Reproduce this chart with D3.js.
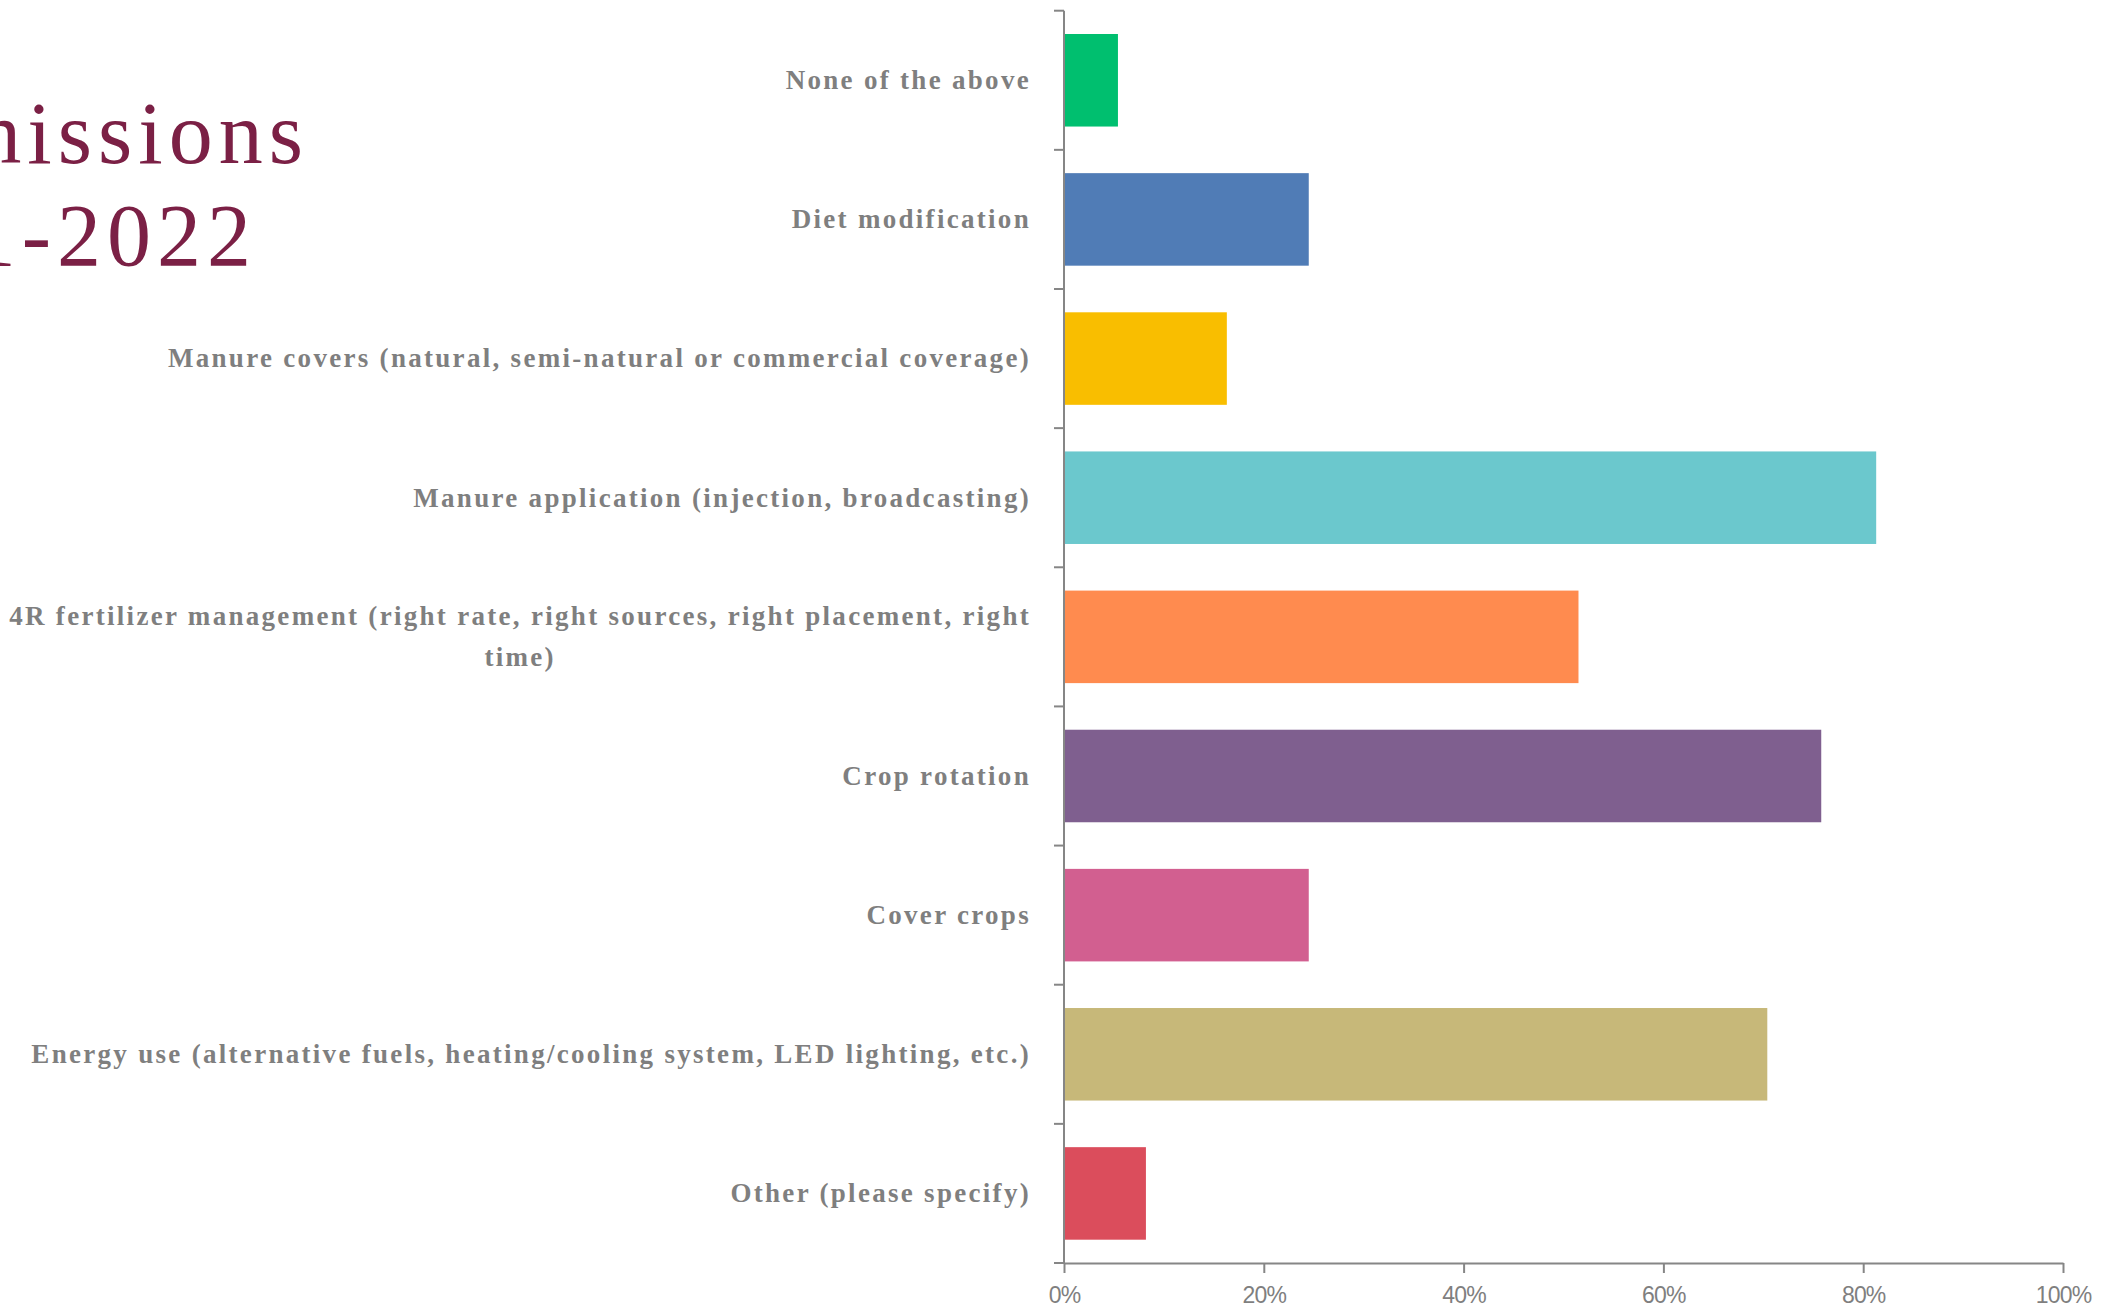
<!DOCTYPE html>
<html>
<head>
<meta charset="utf-8">
<script src="https://cdn.jsdelivr.net/npm/d3@7"></script>
<style>
  html, body { margin: 0; padding: 0; background: #ffffff; }
  svg { display: block; }
</style>
</head>
<body>
<svg id="chart" width="2121" height="1310"></svg>
<script>
// ---- Data ----
const categories = [
  "None of the above",
  "Diet modification",
  "Manure covers (natural, semi-natural or commercial coverage)",
  "Manure application (injection, broadcasting)",
  "4R fertilizer management (right rate, right sources, right placement, right time)",
  "Crop rotation",
  "Cover crops",
  "Energy use (alternative fuels, heating/cooling system, LED lighting, etc.)",
  "Other (please specify)"
];
const values = [0.054, 0.245, 0.163, 0.813, 0.515, 0.758, 0.245, 0.704, 0.082];
const barColors = ["#00bf6f", "#507cb6", "#f9be00", "#6bc8cd", "#ff8b4f", "#7f5f8f", "#d25f90", "#c7b879", "#db4d5c"];
const xTickValues = [0, 0.2, 0.4, 0.6, 0.8, 1.0];
const titleLines = ["Practices to Reduce GHG Emissions", "2021-2022"];

// ---- Layout ----
const W = 2121, H = 1310;
const plotLeft = 1064, plotRight = 2063, plotTop = 10.7, plotBottom = 1263;
const labelRight = 1031;
const labelMaxWidth = 1030;
const axisColor = "#868686";
const labelColor = "#7f7f7f";

const svg = d3.select("#chart");

const x = d3.scaleLinear().domain([0, 1]).range([plotLeft, plotRight]);
const y = d3.scaleBand().domain(categories).range([plotTop, plotBottom])
  .paddingInner(0.335).paddingOuter(0.1675);

// Title (clipped at the left edge, as in the reference)
const title = svg.append("text")
  .attr("text-anchor", "end")
  .attr("font-family", "'Liberation Serif', 'Times New Roman', serif")
  .attr("font-size", 88)
  .attr("letter-spacing", 6)
  .attr("fill", "#7b2045");
title.append("tspan").attr("x", 309).attr("y", 163).text(titleLines[0]);
title.append("tspan").attr("x", 257).attr("y", 265).text(titleLines[1]);

// Bars
svg.append("g").selectAll("rect")
  .data(categories)
  .join("rect")
  .attr("x", x(0))
  .attr("y", d => y(d))
  .attr("width", (d, i) => x(values[i]) - x(0))
  .attr("height", y.bandwidth())
  .attr("fill", (d, i) => barColors[i]);

// X axis
const xAxis = d3.axisBottom(x)
  .tickValues(xTickValues)
  .tickFormat(d3.format(".0%"))
  .tickSizeInner(10).tickSizeOuter(0).tickPadding(14);
const gx = svg.append("g").attr("transform", `translate(0,${plotBottom})`).call(xAxis);
gx.select(".domain").attr("stroke", axisColor).attr("stroke-width", 2);
gx.selectAll(".tick line").attr("stroke", axisColor).attr("stroke-width", 2);
gx.selectAll(".tick text")
  .attr("fill", labelColor)
  .attr("font-family", "'Liberation Sans Narrow', 'Arial Narrow', 'Liberation Sans', sans-serif")
  .attr("font-size", 23)
  .attr("letter-spacing", -0.8);

// Y axis line + boundary ticks
const step = y.step();
const boundaries = d3.range(categories.length + 1).map(i => plotTop + i * step);
svg.append("line")
  .attr("x1", plotLeft).attr("x2", plotLeft)
  .attr("y1", plotTop).attr("y2", plotBottom)
  .attr("stroke", axisColor).attr("stroke-width", 2);
svg.append("g").selectAll("line")
  .data(boundaries)
  .join("line")
  .attr("x1", plotLeft - 10).attr("x2", plotLeft)
  .attr("y1", d => d).attr("y2", d => d)
  .attr("stroke", axisColor).attr("stroke-width", 2);

// Y labels
const yAxis = d3.axisLeft(y).tickSize(0).tickPadding(plotLeft - labelRight);
const gy = svg.append("g").attr("transform", `translate(${plotLeft},0)`).call(yAxis);
gy.select(".domain").remove();
gy.selectAll(".tick text")
  .attr("fill", labelColor)
  .attr("font-family", "'Liberation Serif', 'Times New Roman', serif")
  .attr("font-weight", "bold")
  .attr("font-size", 27)
  .attr("letter-spacing", 2.3)
  .attr("dy", "0.33em")
  .each(function(d) {
    const t = d3.select(this);
    if (this.getComputedTextLength() <= labelMaxWidth) return;
    const words = d.split(" ");
    const lines = [];
    let cur = [];
    t.text(null);
    const probe = t.append("tspan");
    words.forEach(w => {
      const test = cur.concat([w]).join(" ");
      probe.text(test);
      if (probe.node().getComputedTextLength() > labelMaxWidth && cur.length) {
        lines.push(cur.join(" "));
        cur = [w];
      } else {
        cur.push(w);
      }
    });
    lines.push(cur.join(" "));
    probe.remove();
    let maxW = 0;
    lines.forEach(l => {
      const tmp = t.append("tspan").text(l);
      maxW = Math.max(maxW, tmp.node().getComputedTextLength());
      tmp.remove();
    });
    const cx = -(plotLeft - labelRight) - maxW / 2;
    const lh = 40.6;
    const y0 = -(lines.length - 1) * lh / 2;
    t.attr("text-anchor", "middle").attr("dy", null);
    lines.forEach((l, i) => {
      t.append("tspan").attr("x", cx).attr("y", y0 + i * lh).attr("dy", "0.33em").text(l);
    });
  });
</script>
</body>
</html>
